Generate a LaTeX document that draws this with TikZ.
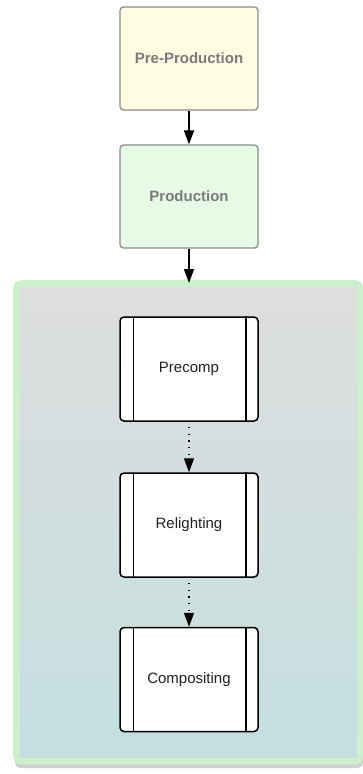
\documentclass[tikz,border=0pt]{standalone}
\usepackage{fontspec}
\setmainfont{Liberation Sans}
\usetikzlibrary{arrows.meta}

\definecolor{preFill}{HTML}{FFFDE4}
\definecolor{prodFill}{HTML}{E6FBE6}
\definecolor{phaseEdge}{HTML}{8C8C8C}
\definecolor{phaseText}{HTML}{7A7A7A}
\definecolor{groupEdge}{HTML}{CDEFCD}
\definecolor{groupTop}{HTML}{DEDEDE}
\definecolor{groupBottom}{HTML}{C4DFE0}
\definecolor{taskText}{HTML}{222222}

\tikzset{
  phase/.style={draw=phaseEdge, line width=1.3pt, rounded corners=3.5pt,
    minimum width=138pt, minimum height=103pt, inner sep=0pt,
    font=\fontsize{15}{18}\selectfont\bfseries, text=phaseText},
  task/.style={draw=black, line width=1.5pt, rounded corners=4pt, fill=white,
    minimum width=138pt, minimum height=104pt, inner sep=0pt,
    font=\fontsize{15}{18}\selectfont, text=taskText},
  flow/.style={line width=1.5pt, -{Triangle[length=14pt,width=10pt]}},
  dotflow/.style={line width=1.3pt, dash pattern=on 1.3pt off 5.5pt,
    -{Triangle[length=14pt,width=10pt]}}
}

\begin{document}
\begin{tikzpicture}[x=1pt,y=-1pt]
  \useasboundingbox (0,0) rectangle (363,774);

  % group container: soft shadow, green rim, gradient body
  \fill[black!18, rounded corners=5pt] (15,286) rectangle (363,768);
  \draw[groupEdge, line width=7pt, rounded corners=5pt] (16.5,283.5) rectangle (360,761);
  \shade[top color=groupTop, bottom color=groupBottom] (20,287) rectangle (356.5,757.5);

  % top-level phases
  \node[phase, fill=preFill]  (pre)  at (189,58.5)  {Pre-Production};
  \node[phase, fill=prodFill] (prod) at (189,196.5) {Production};
  \coordinate (grp) at (189,283);

  % subprocess tasks inside the group
  \node[task] (precomp) at (189,369)   {Precomp};
  \node[task] (relight) at (189,525)   {Relighting};
  \node[task] (comp)    at (189,679.5) {Compositing};

  % side bars of the subprocess symbol
  \foreach \n in {precomp,relight,comp}{
    \draw[line width=1.5pt] ([xshift=14pt]\n.north west) -- ([xshift=14pt]\n.south west);
    \draw[line width=1.5pt] ([xshift=-13pt]\n.north east) -- ([xshift=-13pt]\n.south east);
  }

  % connectors
  \draw[flow] (pre) -- (prod);
  \draw[flow] (prod) -- (grp);
  \draw[dotflow, shorten <=5pt] (precomp) -- (relight);
  \draw[dotflow, shorten <=5pt] (relight) -- (comp);
\end{tikzpicture}
\end{document}
